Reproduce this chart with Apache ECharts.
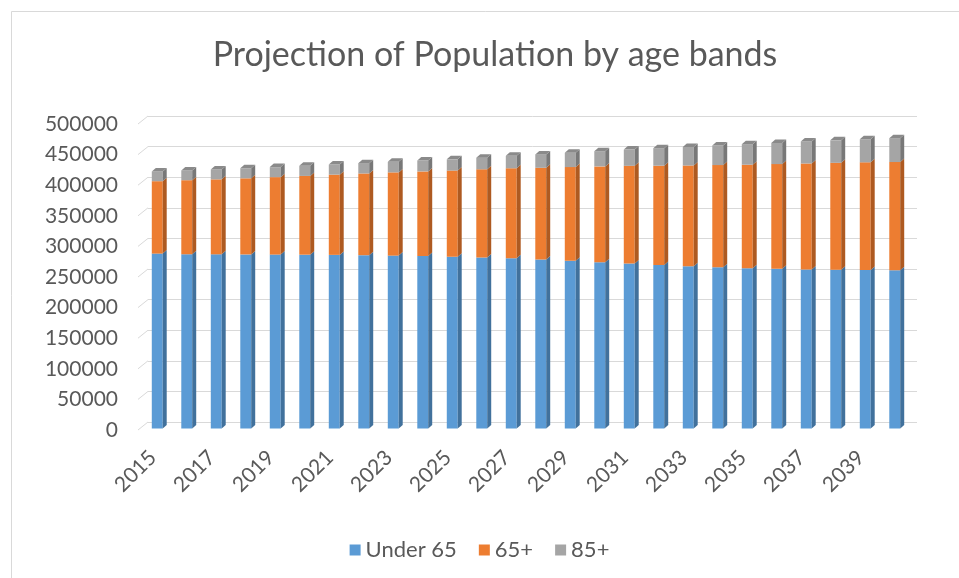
<!DOCTYPE html>
<html><head><meta charset="utf-8">
<script src="https://cdn.jsdelivr.net/npm/echarts@6/dist/echarts.min.js"></script>
<style>html,body{margin:0;padding:0;background:#fff}#c{width:959px;height:578px}</style>
</head><body><div id="c"></div>
<script>
const years = ['2015','2016','2017','2018','2019','2020','2021','2022','2023','2024','2025','2026','2027','2028','2029','2030','2031','2032','2033','2034','2035','2036','2037','2038','2039','2040'];
const under65 = [285800,284700,284600,284400,284200,284000,283700,283200,282500,281800,280800,279500,278000,276200,274000,271700,269500,267200,265000,263300,262000,260900,260000,259400,258900,258500];
const age65plus = [118300,121000,122500,124400,126500,128700,131100,133500,136000,138300,140600,144000,147200,149800,153100,156600,159700,162200,164700,167100,169000,171100,173000,174700,176000,176900];
const age85plus = [15900,15900,16100,16400,16400,16500,16500,16900,17200,17700,18400,19000,20300,21900,23400,24800,26500,28600,30400,32000,33600,34600,36000,36700,37700,39000];
const yTicks = [0,50000,100000,150000,200000,250000,300000,350000,400000,450000,500000];
const seriesNames = ['Under 65','65+','85+'];
const titleText = 'Projection of Population by age bands';

const FONT = 'Lato, "Open Sans", sans-serif';
const TXT = '#595959';
const DX = 4, DY = 3.5;
const OFFX = 4.5, OFFY = -1.5;
const WALLX = 10, WALLY = 8;
const colors = {
  front: ['#5b9bd5','#ed7d31','#a5a5a5'],
  side: ['#41719c','#ae5a21','#787878'],
  top: ['#7aafe0','#f29a5f','#8a8a8a']
};
const stacks = [under65, age65plus, age85plus];

function stackData(k){
  return years.map((y,i)=>{
    let base = 0;
    for (let j=0;j<k;j++) base += stacks[j][i];
    return [i, base, stacks[k][i]];
  });
}
function barRender(k, isTop){
  return function(params, api){
    const i = api.value(0), b = api.value(1), v = api.value(2);
    const p0 = api.coord([i,b]), p1 = api.coord([i,b+v]);
    const band = api.size([1,0])[0];
    const w = band*0.37;
    const x1 = p0[0]-w/2+OFFX, x2 = x1+w, yb = p0[1]+OFFY, yt = p1[1]+OFFY;
    const children = [
      {type:'rect', shape:{x:x1,y:yt,width:w,height:yb-yt}, style:{fill:colors.front[k]}},
      {type:'polygon', shape:{points:[[x2,yt],[x2+DX,yt-DY],[x2+DX,yb-DY],[x2,yb]]}, style:{fill:colors.side[k]}}
    ];
    if (isTop) children.push({type:'polygon', shape:{points:[[x1,yt],[x1+DX,yt-DY],[x2+DX,yt-DY],[x2,yt]]}, style:{fill:colors.top[k]}});
    return {type:'group', children};
  };
}

const chart = echarts.init(document.getElementById('c'), null, {renderer:'canvas'});
const barSeries = seriesNames.map((name,k)=>({
  name, type:'custom', xAxisIndex:0, yAxisIndex:0,
  itemStyle:{color:colors.front[k]},
  encode:{x:0, y:[1,2]},
  data: stackData(k),
  renderItem: barRender(k, k===2),
  z: 3
}));
const diagSeries = {
  name:'wall', type:'custom', xAxisIndex:0, yAxisIndex:0, silent:true, z:1,
  data: yTicks.map(v=>[0,v]),
  encode:{x:0,y:1},
  renderItem: function(params, api){
    const p = api.coord([0, api.value(1)]);
    const band = api.size([1,0])[0];
    const x0 = p[0]-band/2;
    return {type:'line', shape:{x1:x0,y1:p[1],x2:x0+WALLX,y2:p[1]-WALLY}, style:{stroke:'#d9d9d9', lineWidth:1}};
  }
};

chart.setOption({
  animation:false,
  backgroundColor:'#fff',
  textStyle:{fontFamily:FONT},
  graphic:[{type:'rect', left:9, top:9, shape:{width:960,height:580}, style:{fill:'none', stroke:'#d9d9d9', lineWidth:1}, silent:true, z:-1}],
  title:{text:titleText, left:490, textAlign:'center', top:33,
    textStyle:{fontFamily:FONT, fontSize:34, fontWeight:'normal', color:TXT}},
  legend:{data:seriesNames, left:'center', top:534, icon:'rect', itemWidth:11, itemHeight:11, itemGap:22,
    textStyle:{fontFamily:FONT, fontSize:22, color:TXT}},
  grid:[
    {left:138, top:124, width:767, height:306},
    {left:148, top:116, width:769, height:306}
  ],
  xAxis:[
    {type:'category', gridIndex:0, data:years, axisLine:{show:false}, axisTick:{show:false},
      axisLabel:{interval:1, rotate:45, margin:24, fontSize:21, color:TXT, fontFamily:FONT}},
    {type:'category', gridIndex:1, data:years, show:false}
  ],
  yAxis:[
    {type:'value', gridIndex:0, min:0, max:500000, interval:50000, splitLine:{show:false},
      axisLine:{show:false}, axisTick:{show:false},
      axisLabel:{margin:20, fontSize:21, color:TXT, fontFamily:FONT, formatter:(v)=>String(v)}},
    {type:'value', gridIndex:1, min:0, max:500000, interval:50000,
      axisLine:{show:false}, axisTick:{show:false}, axisLabel:{show:false},
      splitLine:{show:true, lineStyle:{color:'#d9d9d9', width:1}}}
  ],
  series:[diagSeries, ...barSeries]
});
</script></body></html>
